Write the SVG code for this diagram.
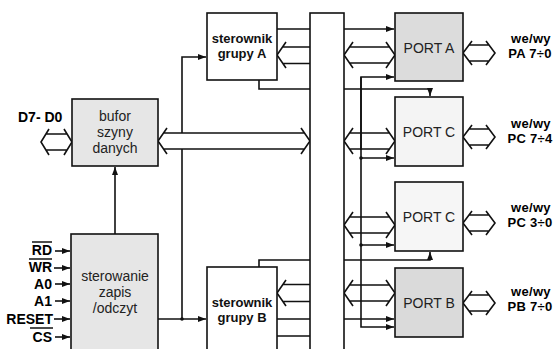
<svg xmlns="http://www.w3.org/2000/svg" width="556" height="349" viewBox="0 0 556 349">
<style>
.box{stroke:#111;stroke-width:1.6}
.ln{fill:none;stroke:#111;stroke-width:1.6}
.wa{fill:none;stroke:#111;stroke-width:1.6;stroke-linejoin:miter}
.wf{fill:#fff;stroke:none}
.bt{font-family:"Liberation Sans",Arial,sans-serif;font-size:14px;fill:#222;text-anchor:middle}
.bb{font-family:"Liberation Sans",Arial,sans-serif;font-size:13px;font-weight:bold;fill:#111;text-anchor:middle}
.lb{font-family:"Liberation Sans",Arial,sans-serif;font-size:14px;font-weight:bold;fill:#000}
.io{font-family:"Liberation Sans",Arial,sans-serif;font-size:13px;font-weight:bold;fill:#000;text-anchor:middle;letter-spacing:0.3px}
.r{text-anchor:end}
</style>
<defs>
<marker id="ah" markerUnits="userSpaceOnUse" markerWidth="9" markerHeight="7" refX="8" refY="3" orient="auto">
<path d="M0,0 L8,3 L0,6 z" fill="#111"/>
</marker>
</defs>
<rect width="556" height="349" fill="#fff"/>

<g id="connectors">
<path class="ln" d="M115,234 V167" marker-end="url(#ah)"/>
<path class="ln" d="M182,319 V57 H206" marker-end="url(#ah)"/>
<path class="ln" d="M158,319 H206" marker-end="url(#ah)"/>
<circle cx="182" cy="319" r="1.8" fill="#111"/>
<path class="ln" d="M55,251 H70" marker-end="url(#ah)"/>
<path class="ln" d="M54,268 H70" marker-end="url(#ah)"/>
<path class="ln" d="M55,284 H70" marker-end="url(#ah)"/>
<path class="ln" d="M55,301 H70" marker-end="url(#ah)"/>
<path class="ln" d="M54,319 H70" marker-end="url(#ah)"/>
<path class="ln" d="M55,337 H70" marker-end="url(#ah)"/>

<path class="wa" d="M49,129 L41,142 L49,155 M45.9,134 H67.1 M45.9,150 H67.1 M64,129 L72,142 L64,155"/>

<polygon class="wf" points="158,141 163.5,133 304.5,133 310,141 304.5,149 163.5,149"/>
<path class="wa" d="M167,128 L158,141 L167,154 M163.5,133 H304.5 M163.5,149 H304.5 M301,128 L310,141 L301,154"/>

<path class="ln" d="M277,29 H310 M259,80 V89 H310"/>
<path class="wa" d="M286,42 L277,55 L286,68 M282.5,47 H310 M282.5,63.5 H310"/>
<path class="ln" d="M344,29 H394" marker-end="url(#ah)"/>
<path class="ln" d="M344,89 H430 V96" marker-end="url(#ah)"/>

<path class="ln" d="M259,267 V260 H310"/>
<path class="wa" d="M286,280 L277,293 L286,306 M282.5,284.5 H310 M282.5,301.5 H310"/>
<path class="ln" d="M277,319 H310 M277,336 H310"/>
<path class="ln" d="M344,260 H430 V252" marker-end="url(#ah)"/>
<path class="ln" d="M344,319 H394" marker-end="url(#ah)"/>

<path class="wa" d="M353,42 L344,55 L353,68 M349.5,47 H389.5 M349.5,63 H389.5 M386,42 L395,55 L386,68"/>
<path class="wa" d="M353,128 L344,141 L353,154 M349.5,133 H389.5 M349.5,149 H389.5 M386,128 L395,141 L386,154"/>
<path class="wa" d="M353,212 L344,225 L353,238 M349.5,217 H389.5 M349.5,233 H389.5 M386,212 L395,225 L386,238"/>
<path class="wa" d="M353,280 L344,293 L353,306 M349.5,285 H389.5 M349.5,301 H389.5 M386,280 L395,293 L386,306"/>

<path class="ln" d="M361,150 V77 H394" marker-end="url(#ah)"/>
<path class="ln" d="M361,77 V327 H394" marker-end="url(#ah)"/>
<path class="ln" d="M361,158 H394" marker-end="url(#ah)"/>
<path class="ln" d="M361,245 H394" marker-end="url(#ah)"/>
<circle cx="361" cy="158" r="1.8" fill="#111"/>
<circle cx="361" cy="245" r="1.8" fill="#111"/>

<path class="wa" d="M472,41 L463,53 L472,65 M469,45 H489 M469,61 H489 M486,41 L495,53 L486,65"/>
<path class="wa" d="M472,125 L463,137 L472,149 M469,129 H489 M469,145 H489 M486,125 L495,137 L486,149"/>
<path class="wa" d="M472,211 L463,223 L472,235 M469,215 H489 M469,231 H489 M486,211 L495,223 L486,235"/>
<path class="wa" d="M472,291 L463,303 L472,315 M469,295 H489 M469,311 H489 M486,291 L495,303 L486,315"/>
</g>

<g id="bus">
<rect class="box" x="310" y="13" width="34" height="345" fill="#fff"/>
</g>

<g id="sterownik-a">
<rect class="box" x="207" y="13" width="70" height="67" fill="#fff"/>
<text class="bb" x="242" y="43">sterownik</text>
<text class="bb" x="242" y="58">grupy A</text>
</g>

<g id="sterownik-b">
<rect class="box" x="207" y="267" width="70" height="95" fill="#fff"/>
<text class="bb" x="242" y="307">sterownik</text>
<text class="bb" x="242" y="322">grupy B</text>
</g>

<g id="bufor">
<rect class="box" x="72" y="99" width="86" height="67" fill="#e6e6e6"/>
<text class="bt" x="115" y="121">bufor</text>
<text class="bt" x="115" y="137">szyny</text>
<text class="bt" x="115" y="153">danych</text>
</g>
<text class="lb" x="18" y="122">D7- D0</text>

<g id="sterowanie">
<rect class="box" x="71" y="234" width="87" height="125" fill="#e6e6e6"/>
<text class="bt" x="115" y="281">sterowanie</text>
<text class="bt" x="115" y="297">zapis</text>
<text class="bt" x="115" y="313">/odczyt</text>
</g>

<g id="signals">
<text class="lb r" x="52" y="255">RD</text>
<line x1="32" y1="242" x2="52" y2="242" stroke="#000" stroke-width="1.4"/>
<text class="lb r" x="52" y="272">WR</text>
<line x1="29" y1="259" x2="52" y2="259" stroke="#000" stroke-width="1.4"/>
<text class="lb r" x="52" y="289">A0</text>
<text class="lb r" x="52" y="306">A1</text>
<text class="lb r" x="53" y="324">RESET</text>
<text class="lb r" x="52" y="342">CS</text>
<line x1="30" y1="328" x2="53" y2="328" stroke="#000" stroke-width="1.4"/>
</g>

<g id="port-a">
<rect class="box" x="395" y="13" width="68" height="68" fill="#dcdcdc"/>
<text class="bt" x="429" y="53">PORT A</text>
</g>
<g id="port-c-upper">
<rect class="box" x="395" y="97" width="68" height="69" fill="#f4f4f4"/>
<text class="bt" x="429" y="137">PORT C</text>
</g>
<g id="port-c-lower">
<rect class="box" x="395" y="182" width="68" height="69" fill="#f6f6f6"/>
<text class="bt" x="429" y="222">PORT C</text>
</g>
<g id="port-b">
<rect class="box" x="395" y="268" width="68" height="69" fill="#dadada"/>
<text class="bt" x="429" y="308">PORT B</text>
</g>

<g id="io-labels">
<text class="io" x="531" y="43">we/wy</text>
<text class="io" x="530" y="58">PA 7÷0</text>
<text class="io" x="531" y="128">we/wy</text>
<text class="io" x="530" y="143">PC 7÷4</text>
<text class="io" x="531" y="212">we/wy</text>
<text class="io" x="530" y="227">PC 3÷0</text>
<text class="io" x="531" y="296">we/wy</text>
<text class="io" x="530" y="311">PB 7÷0</text>
</g>
</svg>
